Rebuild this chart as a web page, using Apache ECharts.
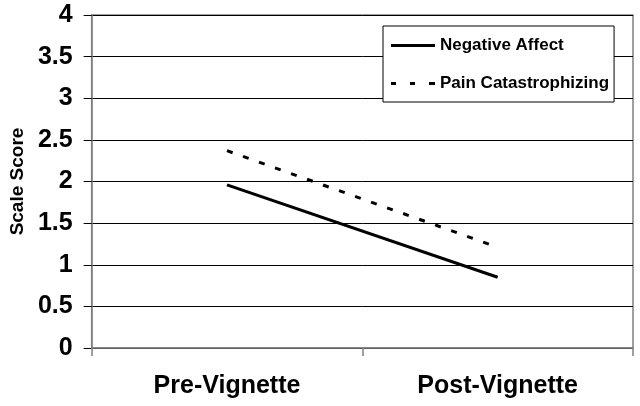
<!DOCTYPE html>
<html><head><meta charset="utf-8">
<script src="https://cdn.jsdelivr.net/npm/echarts@6/dist/echarts.min.js"></script>
<style>html,body{margin:0;padding:0;background:#fff}#c{width:640px;height:406px}</style>
</head><body><div id="c"></div>
<script>
const categories = ['Pre-Vignette', 'Post-Vignette'];
const negativeAffect = [1.96, 0.85];
const painCatastrophizing = [2.37, 1.21];
const yTicks = [0, 0.5, 1, 1.5, 2, 2.5, 3, 3.5, 4];

const chart = echarts.init(document.getElementById('c'));
const F = 'Liberation Sans, Arial, sans-serif';
chart.setOption({
  animation: false,
  backgroundColor: '#fff',
  grid: { left: 89, right: 7, top: 15, bottom: 58, containLabel: false,
    show: true, borderColor: '#808080', borderWidth: 1.5, backgroundColor: 'transparent' },
  legend: {
    orient: 'vertical', left: 383, top: 26,
    padding: [11, 5, 10, 8],
    itemWidth: 44, itemHeight: 14, itemGap: 21,
    borderColor: '#000', borderWidth: 1, backgroundColor: '#fff',
    textStyle: { fontFamily: F, fontWeight: 'bold', fontSize: 17, color: '#000', padding: [0,0,0,0] },
    data: [
      { name: 'Negative Affect', icon: 'path://M0,0 L44,0 L44,3 L0,3 Z', itemStyle: { color: '#000' } },
      { name: 'Pain Catastrophizing', icon: 'path://M0,0 L5,0 L5,3 L0,3 Z M19,0 L24,0 L24,3 L19,3 Z M38,0 L44,0 L44,3 L38,3 Z', itemStyle: { color: '#000' } }
    ]
  },
  xAxis: {
    type: 'category', data: categories, boundaryGap: true,
    axisLine: { lineStyle: { color: '#808080', width: 1.5 } },
    axisTick: { show: true, length: 8, inside: false, lineStyle: { color: '#808080', width: 1.5 } },
    axisLabel: { fontFamily: F, fontWeight: 'bold', fontSize: 25, color: '#000', margin: 26 },
    splitLine: { show: false }
  },
  yAxis: {
    type: 'value', min: 0, max: 4, interval: 0.5,
    name: 'Scale Score', nameLocation: 'middle', nameGap: 64, nameRotate: 90,
    nameTextStyle: { fontFamily: F, fontWeight: 'bold', fontSize: 19, color: '#000' },
    axisLine: { show: true, lineStyle: { color: '#808080', width: 1.5 } },
    axisTick: { show: true, length: 8, lineStyle: { color: '#000', width: 1 } },
    axisLabel: { fontFamily: F, fontWeight: 'bold', fontSize: 25, color: '#000', margin: 19,
      formatter: v => String(v) },
    splitLine: { show: true, lineStyle: { color: '#000', width: 1 } }
  },
  series: [
    { name: 'Negative Affect', type: 'line', data: negativeAffect, symbol: 'none',
      lineStyle: { color: '#000', width: 3, type: 'solid' }, itemStyle: { color: '#000' } },
    { name: 'Pain Catastrophizing', type: 'line', data: painCatastrophizing, symbol: 'none',
      lineStyle: { color: '#000', width: 3, type: [6, 11] }, itemStyle: { color: '#000' } }
  ]
});
</script></body></html>
